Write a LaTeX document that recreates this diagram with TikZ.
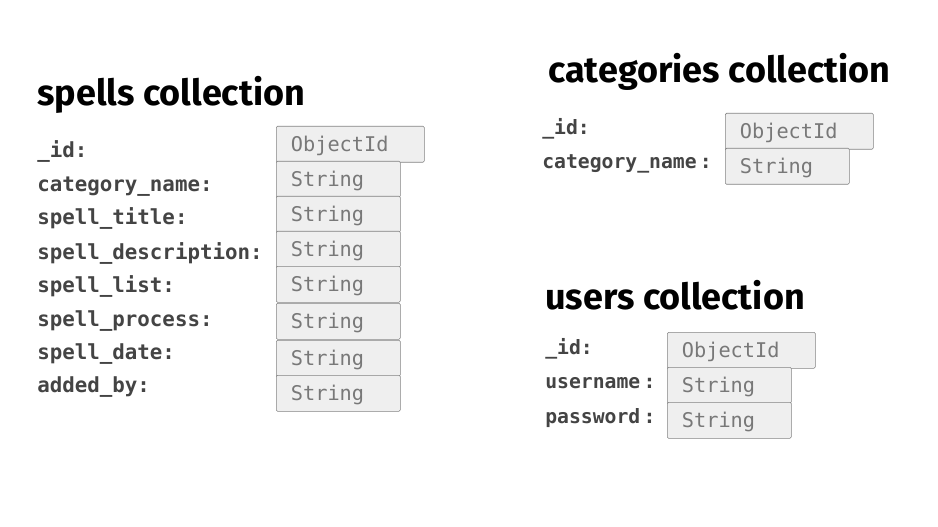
\documentclass[tikz,border=0pt]{standalone}
\usepackage{fontspec}
\setmainfont{Fira Sans}
\newfontfamily\codefont{DejaVu Sans Mono}
\definecolor{boxfill}{RGB}{239,239,239}
\definecolor{boxline}{RGB}{130,130,130}
\definecolor{typetext}{RGB}{120,120,120}
\definecolor{fieldtext}{RGB}{68,68,68}
\tikzset{
  collhead/.style={anchor=base west,inner sep=0pt,font=\fontsize{27}{31}\selectfont\bfseries},
  fieldname/.style={anchor=base west,inner sep=0pt,text=fieldtext,font=\codefont\fontsize{15.6}{17}\selectfont\bfseries},
  smallfield/.style={fieldname,font=\codefont\fontsize{14.8}{16}\selectfont\bfseries},
  typebox/.style={draw=boxline,fill=boxfill,rounded corners=1pt,anchor=north west,minimum height=27pt,inner xsep=11pt,inner ysep=2pt,text height=14pt,text depth=3pt,align=left,text=typetext,font=\codefont\fontsize{15.2}{17}\selectfont},
  idbox/.style={typebox,text width=89pt},
  strbox/.style={typebox,text width=71pt},
}
\begin{document}
\begin{tikzpicture}[x=0.75pt,y=0.75pt,yscale=-1]
\useasboundingbox (0,0) rectangle (938,527);

% spells collection
\node (spellsHead) at (37,106) [collhead] {spells collection};
\node (spId) at (37,158) [fieldname] {\_id:};
\node (spCategory) at (37,192) [fieldname] {category\_name:};
\node (spTitle) at (37,225) [fieldname] {spell\_title:};
\node (spDescription) at (37,259) [fieldname] {spell\_description:};
\node (spList) at (37,292) [fieldname] {spell\_list:};
\node (spProcess) at (37,326) [fieldname] {spell\_process:};
\node (spDate) at (37,359) [fieldname] {spell\_date:};
\node (spAddedBy) at (37,392) [fieldname] {added\_by:};
%Shape: Type boxes
\node (spIdType) at (276,126) [idbox] {ObjectId};
\node (spCategoryType) at (276,161) [strbox] {String};
\node (spTitleType) at (276,196) [strbox] {String};
\node (spDescriptionType) at (276,231) [strbox] {String};
\node (spListType) at (276,266) [strbox] {String};
\node (spProcessType) at (276,303) [strbox] {String};
\node (spDateType) at (276,340) [strbox] {String};
\node (spAddedByType) at (276,375) [strbox] {String};

% categories collection
\node (catHead) at (548,83) [collhead] {categories collection};
\node (catId) at (542,135) [smallfield] {\_id:};
\node (catName) at (542,169) [smallfield] {category\_name\,:};
%Shape: Type boxes
\node (catIdType) at (725,113) [idbox] {ObjectId};
\node (catNameType) at (725,148) [strbox] {String};

% users collection
\node (usersHead) at (545,309) [collhead] {users collection};
\node (usId) at (545,354) [smallfield] {\_id:};
\node (usName) at (545,388) [smallfield] {username\,:};
\node (usPassword) at (545,423) [smallfield] {password\,:};
%Shape: Type boxes
\node (usIdType) at (667,332) [idbox] {ObjectId};
\node (usNameType) at (667,367) [strbox] {String};
\node (usPasswordType) at (667,402) [strbox] {String};

\end{tikzpicture}
\end{document}
